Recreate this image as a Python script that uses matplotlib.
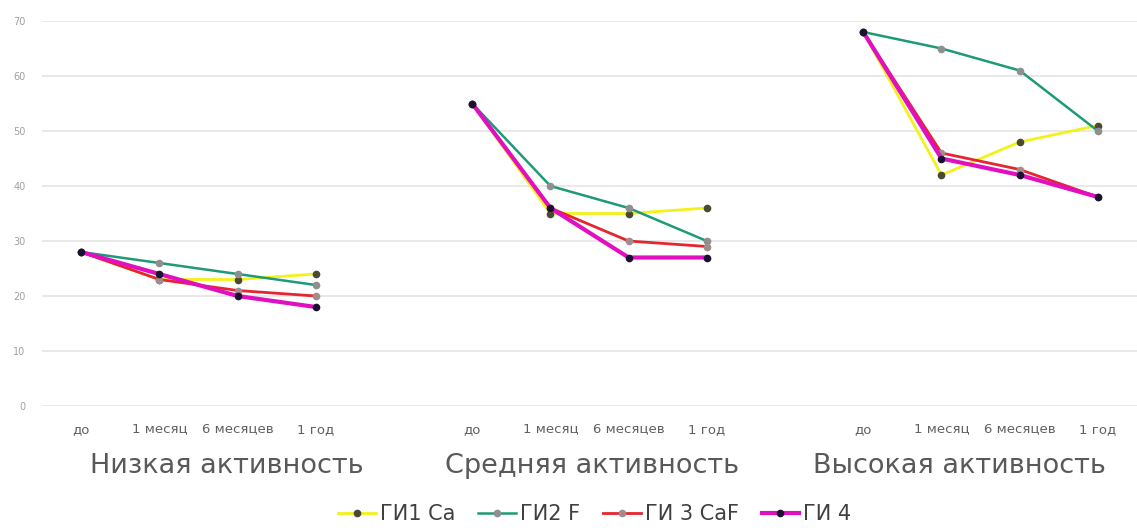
import numpy as np
import matplotlib.pyplot as plt
from matplotlib import transforms

# --- data ---
groups = ["Низкая активность", "Средняя активность", "Высокая активность"]
periods = ["до", "1 месяц", "6 месяцев", "1 год"]

gi1_ca = [28, 23, 23, 24,   55, 35, 35, 36,   68, 42, 48, 51]
gi2_f = [28, 26, 24, 22,    55, 40, 36, 30,   68, 65, 61, 50]
gi3_caf = [28, 23, 21, 20,  55, 36, 30, 29,   68, 46, 43, 38]
gi4 = [28, 24, 20, 18,      55, 36, 27, 27,   68, 45, 42, 38]

series = [
    ("ГИ1 Ca", gi1_ca, "#f2f21a", "#4a4a30", 2.0),
    ("ГИ2 F", gi2_f, "#1f9a78", "#8f8f8f", 1.8),
    ("ГИ 3 CaF", gi3_caf, "#e3262f", "#a08c8c", 2.0),
    ("ГИ 4", gi4, "#e010c0", "#1c1030", 3.0),
]

# group label shift from the centre of its points (data units), as in the picture
label_shift = [0.36, 0.03, -0.27]

plt.rcParams["font.family"] = ["DejaVu Sans"]

fig = plt.figure(figsize=(11.37, 5.28), dpi=100)
ax = fig.add_axes([42 / 1137, (528 - 406) / 528, 1095 / 1137, 385 / 528])

n = len(periods)
gap = 1
for label, vals, color, mcolor, lw in series:
    vals = np.asarray(vals, dtype=float)
    for g in range(len(groups)):
        x = np.arange(n) + g * (n + gap)
        y = vals[g * n:(g + 1) * n]
        ax.plot(x, y, color=color, lw=lw, marker="o", ms=4.5,
                mfc=mcolor, mec=mcolor, zorder=3,
                label=label if g == 0 else None)

ax.set_ylim(0, 70)
ax.set_xlim(-0.5, len(groups) * (n + gap) - gap - 0.5)
ax.set_yticks(np.arange(0, 71, 10))
ax.yaxis.grid(True, color="#e4e4e4", lw=1.2)
ax.set_axisbelow(True)
for s in ax.spines.values():
    s.set_visible(False)
ax.tick_params(axis="y", length=0, labelsize=7, labelcolor="#a0a0a0", pad=12)

xt = [g * (n + gap) + j for g in range(len(groups)) for j in range(n)]
ax.set_xticks(xt)
ax.set_xticklabels(periods * len(groups))
ax.tick_params(axis="x", length=0, labelsize=9.5, labelcolor="#606060", pad=12)

trans = transforms.blended_transform_factory(ax.transData, ax.transAxes)
for g, name in enumerate(groups):
    cx = g * (n + gap) + (n - 1) / 2 + label_shift[g]
    ax.text(cx, (406 - 473) / 385, name, transform=trans, ha="center",
            va="baseline", fontsize=19.5, color="#595959")

fig.legend(loc="center", bbox_to_anchor=(595 / 1137, (528 - 514) / 528), ncol=4,
           frameon=False, fontsize=15, handlelength=1.8, handletextpad=0.2,
           columnspacing=1.1, labelcolor="#404040", borderpad=0)

fig.savefig("out.png", dpi=100)
